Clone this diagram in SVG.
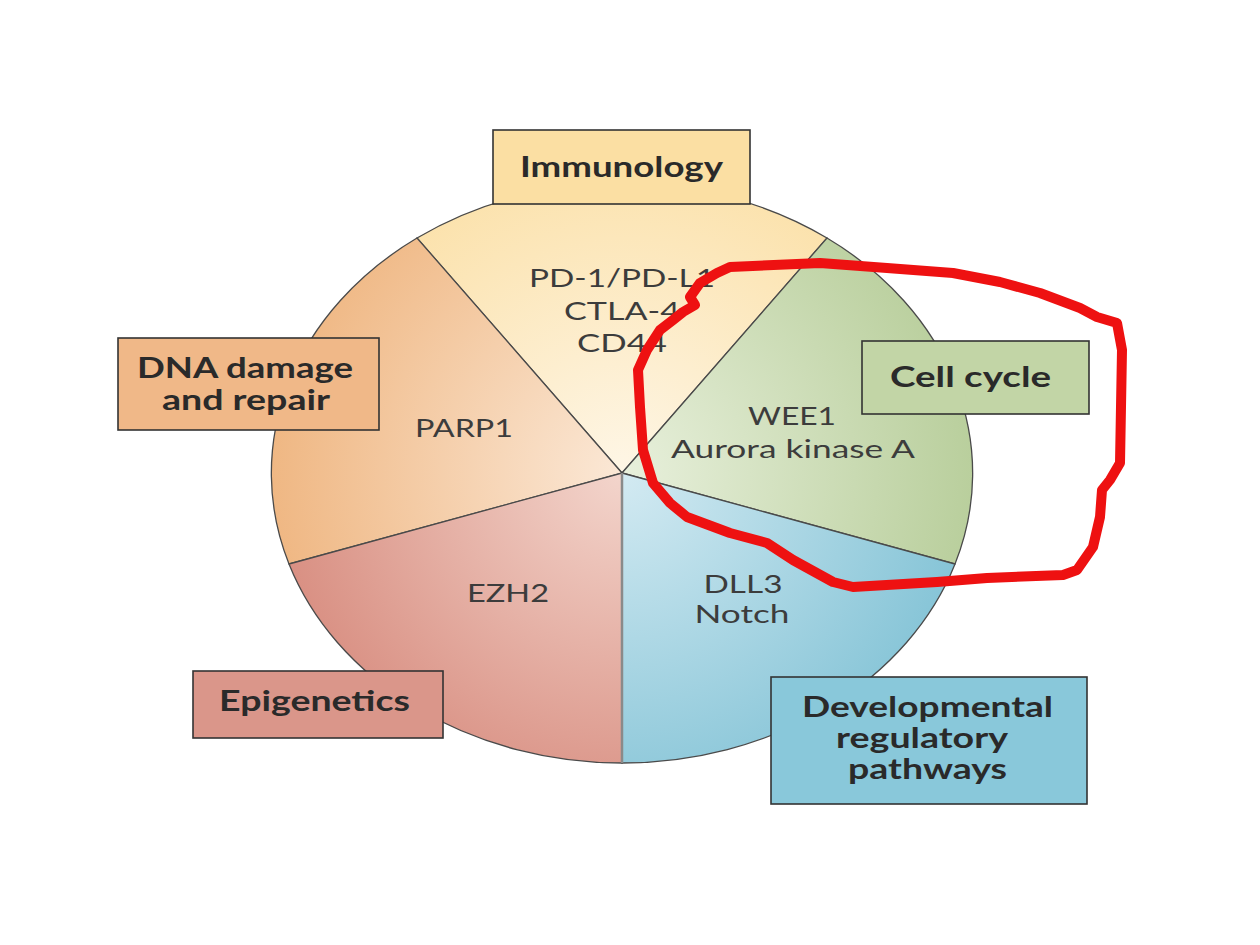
<svg xmlns="http://www.w3.org/2000/svg" width="1260" height="945" viewBox="0 0 1260 945">
<defs>
<radialGradient id="gImm" gradientUnits="userSpaceOnUse" cx="622" cy="473" r="360"><stop offset="0" stop-color="#fef6e6"/><stop offset="1" stop-color="#fbdfa4"/></radialGradient>
<radialGradient id="gDna" gradientUnits="userSpaceOnUse" cx="622" cy="473" r="360"><stop offset="0" stop-color="#fbe8d6"/><stop offset="1" stop-color="#efb681"/></radialGradient>
<radialGradient id="gCc" gradientUnits="userSpaceOnUse" cx="622" cy="473" r="360"><stop offset="0" stop-color="#e8f0dc"/><stop offset="1" stop-color="#b8ce9b"/></radialGradient>
<radialGradient id="gDev" gradientUnits="userSpaceOnUse" cx="622" cy="473" r="360"><stop offset="0" stop-color="#d3eaf2"/><stop offset="1" stop-color="#83c3d6"/></radialGradient>
<radialGradient id="gEpi" gradientUnits="userSpaceOnUse" cx="622" cy="473" r="360"><stop offset="0" stop-color="#f3d5cc"/><stop offset="1" stop-color="#d88d80"/></radialGradient>
<style>
.sec{stroke:#4a4a4a;stroke-width:1.3}
.box{stroke:#333;stroke-width:1.6}
.in{font-family:Lato,"Liberation Sans",sans-serif;font-size:25px;fill:#3c3c3c;text-anchor:middle}
.bl{font-family:Lato,"Liberation Sans",sans-serif;font-size:28px;font-weight:bold;fill:#2a2a2a;text-anchor:middle}
</style>
</defs>
<rect width="1260" height="945" fill="#ffffff"/>

<g id="immunology">
<path class="sec" fill="url(#gImm)" d="M622,473 L417,238 A351,290 0 0 1 827,238 Z"/>
<text class="in" x="622" y="287" textLength="186" lengthAdjust="spacingAndGlyphs">PD-1/PD-L1</text>
<text class="in" x="622" y="320" textLength="116" lengthAdjust="spacingAndGlyphs">CTLA-4</text>
<text class="in" x="622" y="352" textLength="90" lengthAdjust="spacingAndGlyphs">CD44</text>
<rect class="box" x="493" y="130" width="257" height="74" fill="#fbdfa3"/>
<text class="bl" x="621.5" y="177" textLength="203" lengthAdjust="spacingAndGlyphs">Immunology</text>
</g>

<g id="dna-damage">
<path class="sec" fill="url(#gDna)" d="M622,473 L289,564 A351,290 0 0 1 417,238 Z"/>
<text class="in" x="464" y="437" textLength="98" lengthAdjust="spacingAndGlyphs">PARP1</text>
<rect class="box" x="118" y="338" width="261" height="92" fill="#f0b888"/>
<text class="bl" x="245" y="378" textLength="216" lengthAdjust="spacingAndGlyphs">DNA damage</text>
<text class="bl" x="246" y="410" textLength="168" lengthAdjust="spacingAndGlyphs">and repair</text>
</g>

<g id="cell-cycle">
<path class="sec" fill="url(#gCc)" d="M622,473 L827,238 A351,290 0 0 1 955,564 Z"/>
<text class="in" x="792" y="425" textLength="88" lengthAdjust="spacingAndGlyphs">WEE1</text>
<text class="in" x="793" y="458" textLength="244" lengthAdjust="spacingAndGlyphs">Aurora kinase A</text>
<rect class="box" x="862" y="341" width="227" height="73" fill="#c2d5a6"/>
<text class="bl" x="970.5" y="387" textLength="161" lengthAdjust="spacingAndGlyphs">Cell cycle</text>
</g>

<g id="developmental">
<path class="sec" fill="url(#gDev)" d="M622,473 L955,564 A351,290 0 0 1 622,763 Z"/>
<text class="in" x="743" y="593" textLength="79" lengthAdjust="spacingAndGlyphs">DLL3</text>
<text class="in" x="742" y="623" textLength="95" lengthAdjust="spacingAndGlyphs">Notch</text>
<rect class="box" x="771" y="677" width="316" height="127" fill="#89c8da"/>
<text class="bl" x="927.5" y="717" textLength="251" lengthAdjust="spacingAndGlyphs">Developmental</text>
<text class="bl" x="922" y="748" textLength="172" lengthAdjust="spacingAndGlyphs">regulatory</text>
<text class="bl" x="927.5" y="779" textLength="159" lengthAdjust="spacingAndGlyphs">pathways</text>
</g>

<g id="epigenetics">
<path class="sec" fill="url(#gEpi)" d="M622,473 L622,763 A351,290 0 0 1 289,564 Z"/>
<line x1="622" y1="473" x2="622" y2="763" stroke="#8a8a8a" stroke-width="2.5"/>
<text class="in" x="508" y="602" textLength="82" lengthAdjust="spacingAndGlyphs">EZH2</text>
<rect class="box" x="193" y="671" width="250" height="67" fill="#da968a"/>
<text class="bl" x="314.5" y="711" textLength="191" lengthAdjust="spacingAndGlyphs">Epigenetics</text>
</g>

<g id="connectors">
<path fill="none" stroke="#ee1111" stroke-width="10" stroke-linejoin="round" stroke-linecap="round" d="M730,267 L820,263 L887,268 L953,273 L1000,282 L1040,293 L1080,308 L1097,317 L1117,323 L1122,350 L1120,463 L1110,480 L1102,490 L1100,517 L1093,547 L1077,570 L1063,575 L987,578 L937,582 L853,587 L833,582 L793,560 L767,543 L730,533 L687,517 L670,503 L653,483 L643,450 L640,407 L638,370 L647,350 L660,330 L673,320 L683,312 L695,305 L690,297 L700,283 L717,273 Z"/>
</g>
</svg>
